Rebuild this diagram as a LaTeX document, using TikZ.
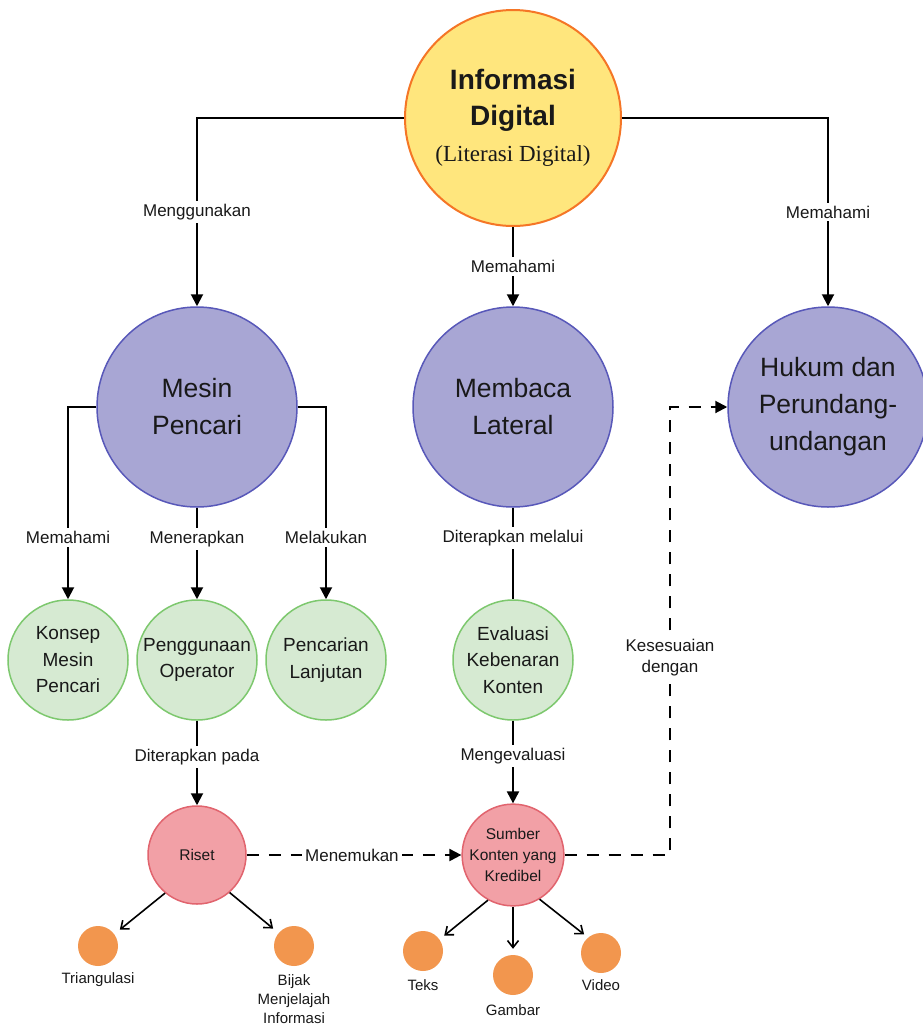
\documentclass[tikz,border=0pt]{standalone}
\usepackage{fontspec}
\setmainfont{Liberation Sans}
\newfontfamily\serifx{Liberation Serif}
\usetikzlibrary{arrows.meta,calc}
\definecolor{yfill}{RGB}{255,230,125}
\definecolor{ydraw}{RGB}{245,118,38}
\definecolor{pfill}{RGB}{168,166,212}
\definecolor{pdraw}{RGB}{88,88,185}
\definecolor{gfill}{RGB}{214,234,210}
\definecolor{gdraw}{RGB}{125,200,110}
\definecolor{rfill}{RGB}{242,160,166}
\definecolor{rdraw}{RGB}{225,100,110}
\definecolor{ofill}{RGB}{242,150,78}
\definecolor{txt}{RGB}{25,25,25}
\begin{document}
\begin{tikzpicture}[x=1pt,y=-1pt,
 every node/.style={inner sep=0pt, text=txt},
 topc/.style={circle, fill=yfill, draw=ydraw, line width=2pt, minimum size=216pt, align=center, font=\fontsize{28}{36}\selectfont\bfseries},
 bigc/.style={circle, fill=pfill, draw=pdraw, line width=1.5pt, minimum size=200pt, align=center, font=\fontsize{26.5}{37}\selectfont},
 midc/.style={circle, fill=gfill, draw=gdraw, line width=1.5pt, minimum size=120pt, align=center, font=\fontsize{19}{26.5}\selectfont},
 smc/.style={circle, fill=rfill, draw=rdraw, line width=1.5pt, minimum size=98pt, align=center, font=\fontsize{15.5}{21}\selectfont},
 dotc/.style={circle, fill=ofill, minimum size=40pt},
 lbl/.style={fill=white, inner sep=3pt, font=\fontsize{17}{21}\selectfont, align=center},
 dlbl/.style={font=\fontsize{15}{19}\selectfont, align=center},
 conn/.style={line width=2pt, draw=black},
 arr/.style={conn, -{Triangle[length=12pt,width=12pt]}},
 darr/.style={arr, dash pattern=on 12pt off 10pt},
 sarr/.style={line width=1.6pt, draw=black, -{Straight Barb[length=7pt,width=11pt]}},
]
\fill[white] (0,0) rectangle (922,1026);
\useasboundingbox (0,0) rectangle (922,1026);

% nodes
\node[topc] (top) at (513,118) {Informasi\\ Digital\\ {\serifx\mdseries\fontsize{23}{28}\selectfont (Literasi Digital)}};
\node[bigc] (mesin) at (197,407) {Mesin\\ Pencari};
\node[bigc] (membaca) at (513,407) {Membaca\\ Lateral};
\node[bigc] (hukum) at (828,407) {Hukum dan\\ Perundang-\\ undangan};
\node[midc] (konsep) at (68,660) {Konsep\\ Mesin\\ Pencari};
\node[midc] (peng) at (197,660) {Penggunaan\\ Operator};
\node[midc] (lanjut) at (326,660) {Pencarian\\ Lanjutan};
\node[midc] (eval) at (513,660) {Evaluasi\\ Kebenaran\\ Konten};
\node[smc] (riset) at (197,855) {Riset};
\node[smc] (sumber) at (513,855) {Sumber\\ Konten yang\\ Kredibel};
\node[dotc] (tri) at (98,946) {};
\node[dotc] (bijak) at (294,946) {};
\node[dotc] (teks) at (423,951) {};
\node[dotc] (gambar) at (513,975) {};
\node[dotc] (video) at (601,953) {};
\node[dlbl] (tril) at (98,980) {Triangulasi};
\node[dlbl] (bijakl) at (294,999) {Bijak\\ Menjelajah\\ Informasi};
\node[dlbl] (teksl) at (423,985) {Teks};
\node[dlbl] (gambarl) at (513,1010) {Gambar};
\node[dlbl] (videol) at (601,985) {Video};
\coordinate (kc) at (670,855);

% connectors
\draw[arr] (top.west) -| node[lbl, pos=0.75] {Menggunakan} (mesin.north);
\draw[arr] (top.south) -- node[lbl, pos=0.5] {Memahami} (membaca.north);
\draw[arr] (top.east) -| node[lbl, pos=0.75] {Memahami} (hukum.north);

\draw[arr] (mesin.west) -| node[lbl, pos=0.84] {Memahami} (konsep.north);
\draw[arr] (mesin.south) -- node[lbl, pos=0.34] {Menerapkan} (peng.north);
\draw[arr] (mesin.east) -| node[lbl, pos=0.84] {Melakukan} (lanjut.north);

\draw[conn] (membaca.south) -- node[lbl, pos=0.33] {Diterapkan melalui} (eval.north);

\draw[arr] (peng.south) -- node[lbl, pos=0.43] {Diterapkan pada} (riset.north);
\draw[arr] (eval.south) -- node[lbl, pos=0.43] {Mengevaluasi} (sumber.north);

\draw[darr] (riset.east) -- node[lbl, pos=0.49] {Menemukan} (sumber.west);
\draw[darr] (sumber.east) -- (kc) |- node[lbl, pos=0.22] {Kesesuaian\\ dengan} (hukum.west);

\draw[sarr, shorten >=7pt] (riset.230) -- (tri.36);
\draw[sarr, shorten >=7pt] (riset.311) -- (bijak.140);
\draw[sarr, shorten >=6pt] (sumber.241) -- (teks.35);
\draw[sarr, shorten >=6pt] (sumber.south) -- (gambar.north);
\draw[sarr, shorten >=5pt] (sumber.301) -- (video.130);
\end{tikzpicture}
\end{document}
